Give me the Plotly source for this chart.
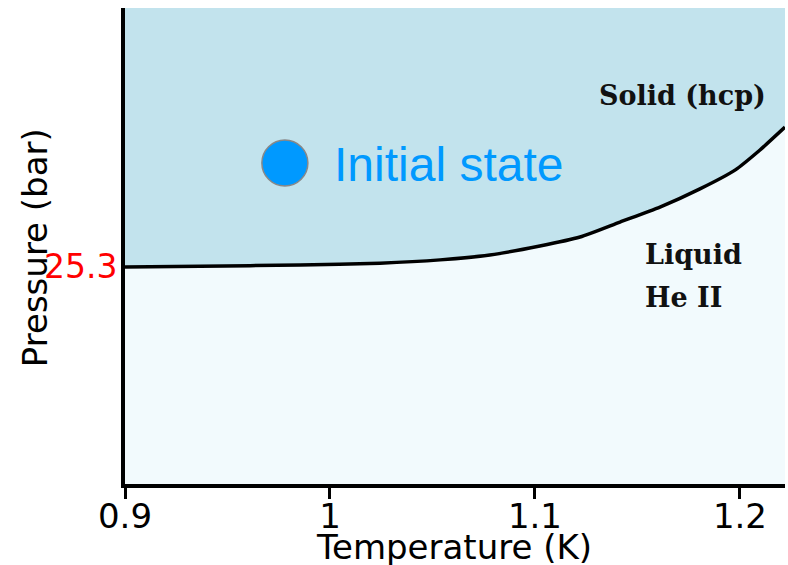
import plotly.graph_objects as go

# Melting curve (temperature K, pressure bar)
curve_T = [0.9, 0.9366, 0.9854, 1.0244, 1.0537, 1.078, 1.1024, 1.122, 1.1415, 1.161, 1.1805, 1.1976, 1.2098, 1.222]
curve_P = [25.298, 25.301, 25.305, 25.312, 25.324, 25.342, 25.375, 25.408, 25.463, 25.518, 25.585, 25.654, 25.728, 25.812]

x_ticks = [0.9, 1.0, 1.1, 1.2]
x_tick_labels = ["0.9", "1", "1.1", "1.2"]
y_ticks = [25.3]
y_tick_labels = ["25.3"]

initial_T = [0.978]
initial_P = [25.68]

X_RANGE = [0.9, 1.222]
Y_RANGE = [24.5, 26.25]

SOLID_COLOR = "#c2e3ed"
LIQUID_COLOR = "#f2fafd"

fig = go.Figure()

# Solid region: above the melting curve
fill_T = curve_T + [X_RANGE[1], X_RANGE[0]]
fill_P = curve_P + [Y_RANGE[1], Y_RANGE[1]]
fig.add_trace(go.Scatter(x=fill_T, y=fill_P, mode="lines", fill="toself",
                         fillcolor=SOLID_COLOR, line=dict(width=0),
                         hoverinfo="skip", showlegend=False))

# Melting curve
fig.add_trace(go.Scatter(x=curve_T, y=curve_P, mode="lines",
                         line=dict(color="black", width=3.5, shape="spline", smoothing=0.6),
                         showlegend=False))

# Initial state point
fig.add_trace(go.Scatter(x=initial_T, y=initial_P, mode="markers",
                         marker=dict(size=46, color="#0099ff",
                                     line=dict(color="#888888", width=1.5)),
                         showlegend=False))

fig.add_annotation(x=1.001, y=25.673, text="Initial state", showarrow=False,
                   xanchor="left", yanchor="middle",
                   font=dict(family="Liberation Sans", size=48, color="#0099ff"))
fig.add_annotation(x=1.1302, y=25.93, text="<b>Solid (hcp)</b>", showarrow=False,
                   xanchor="left", yanchor="middle",
                   font=dict(family="DejaVu Serif", size=27, color="#111111"))
fig.add_annotation(x=1.1527, y=25.342, text="<b>Liquid</b>", showarrow=False,
                   xanchor="left", yanchor="middle",
                   font=dict(family="DejaVu Serif", size=27, color="#111111"))
fig.add_annotation(x=1.1527, y=25.1875, text="<b>He II</b>", showarrow=False,
                   xanchor="left", yanchor="middle",
                   font=dict(family="DejaVu Serif", size=27, color="#111111"))

# Axis titles
fig.add_annotation(xref="paper", yref="paper", x=0.498, y=-0.132, text="Temperature (K)",
                   showarrow=False, xanchor="center", yanchor="middle",
                   font=dict(family="DejaVu Sans", size=34, color="black"))
fig.add_annotation(xref="paper", yref="paper", x=-0.136, y=0.496, text="Pressure (bar)",
                   showarrow=False, xanchor="center", yanchor="middle", textangle=-90,
                   font=dict(family="DejaVu Sans", size=34, color="black"))

fig.update_layout(
    width=788, height=565,
    margin=dict(l=125, r=3, t=8, b=81),
    paper_bgcolor="white",
    plot_bgcolor=LIQUID_COLOR,
    font=dict(family="DejaVu Sans", size=34, color="black"),
    xaxis=dict(range=X_RANGE, tickvals=x_ticks, ticktext=x_tick_labels,
               showgrid=False, zeroline=False, showline=True, linecolor="black",
               linewidth=4, ticks="outside", ticklen=11, tickwidth=3, tickcolor="black",
               ticklabelstandoff=-12,
               tickfont=dict(family="DejaVu Sans", size=34, color="black")),
    yaxis=dict(range=Y_RANGE, tickvals=y_ticks, ticktext=y_tick_labels,
               showgrid=False, zeroline=False, showline=True, linecolor="black",
               linewidth=4, ticks="", ticklabelstandoff=-3,
               tickfont=dict(family="DejaVu Sans", size=33, color="red")),
)

fig.write_html("out.html",
               config={"displayModeBar": False},
               post_script="document.body.style.margin='0';document.body.style.overflow='hidden';")
